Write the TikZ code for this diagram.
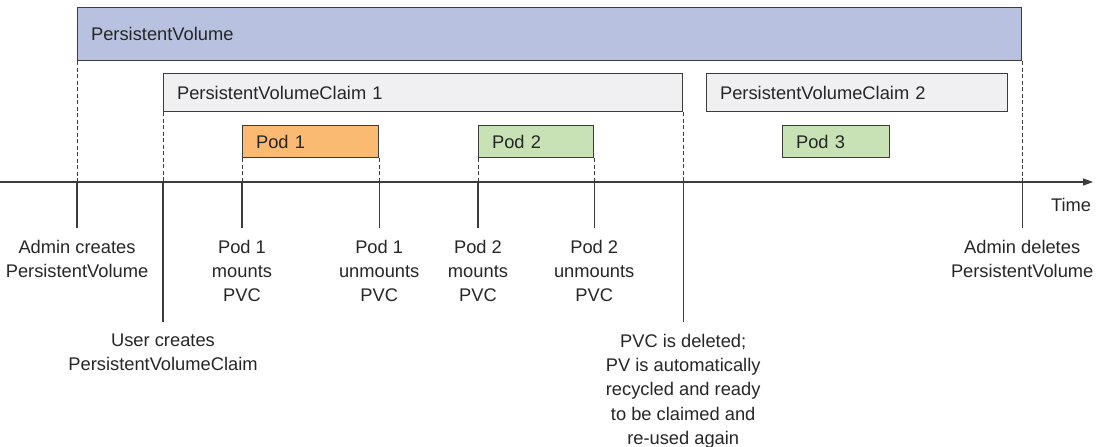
\documentclass[tikz,border=0pt]{standalone}
\usepackage{fontspec}
\setmainfont{Liberation Sans}
\usetikzlibrary{arrows.meta}
\definecolor{pvblue}{HTML}{B8C2E0}
\definecolor{claimgray}{HTML}{F0F0F2}
\definecolor{podorange}{HTML}{FBBA72}
\definecolor{podgreen}{HTML}{C8E2B6}
\definecolor{linegray}{HTML}{3C3C3C}
\definecolor{inkgray}{HTML}{262626}

\begin{document}
\begin{tikzpicture}[x=1pt, y=-1pt,
    font=\fontsize{18.3}{24.2}\selectfont,
    bar/.style={draw=linegray, line width=1.2pt, anchor=north west, inner xsep=13.5pt,
        inner ysep=0pt, align=left, text=inkgray},
    event/.style={anchor=north, align=center, inner xsep=0pt, inner ysep=12pt, text=inkgray},
    guide/.style={draw=linegray, line width=1pt, dash pattern=on 4pt off 2.5pt},
    tick/.style={draw=linegray, line width=1.2pt}]
    \useasboundingbox (0,0) rectangle (1098,447);
    % Volume and claims
    \node[bar, fill=pvblue, text width=917pt, minimum height=53pt] (pv) at (77,7) {PersistentVolume};
    \node[bar, fill=claimgray, text width=492pt, minimum height=38pt] (pvc1) at (163,73) {PersistentVolumeClaim 1};
    \node[bar, fill=claimgray, text width=274pt, minimum height=38pt] (pvc2) at (706,73) {PersistentVolumeClaim 2};
    % Pods
    \node[bar, fill=podorange, text width=109pt, minimum height=32pt] (pod1) at (242,125) {Pod 1};
    \node[bar, fill=podgreen, text width=88pt, minimum height=32pt] (pod2) at (478,125) {Pod 2};
    \node[bar, fill=podgreen, text width=80pt, minimum height=32pt] (pod3) at (782,125) {Pod 3};
    % Time axis
    \coordinate (tstart) at (0,182);
    \coordinate (tend) at (1093,182);
    \coordinate (high) at (0,228);
    \coordinate (low) at (0,322);
    \draw[tick, -{Triangle[length=10pt, width=7pt]}] (tstart) -- (tend);
    \node[text=inkgray] (time) at (1071,205) {Time};
    % Events
    \node[event] (pvmade) at (pv.south west |- high) {Admin creates\\PersistentVolume};
    \node[event] (pvcmade) at (pvc1.south west |- low) {User creates\\PersistentVolumeClaim};
    \node[event] (mount1) at (pod1.south west |- high) {Pod 1\\mounts\\PVC};
    \node[event] (unmount1) at (pod1.south east |- high) {Pod 1\\unmounts\\PVC};
    \node[event] (mount2) at (pod2.south west |- high) {Pod 2\\mounts\\PVC};
    \node[event] (unmount2) at (pod2.south east |- high) {Pod 2\\unmounts\\PVC};
    \node[event] (pvcgone) at (pvc1.south east |- low) {PVC is deleted;\\PV is automatically\\recycled and ready\\to be claimed and\\re-used again};
    \node[event] (pvgone) at (pv.south east |- high) {Admin deletes\\PersistentVolume};
    % Guides down to the axis, ticks down to the events
    \foreach \from/\to in {pv.south west/pvmade, pvc1.south west/pvcmade, pod1.south west/mount1,
        pod1.south east/unmount1, pod2.south west/mount2, pod2.south east/unmount2,
        pvc1.south east/pvcgone, pv.south east/pvgone} {
        \draw[guide] (\from) -- (\from |- tstart);
        \draw[tick] (\from |- tstart) -- (\to);
    }
\end{tikzpicture}
\end{document}
